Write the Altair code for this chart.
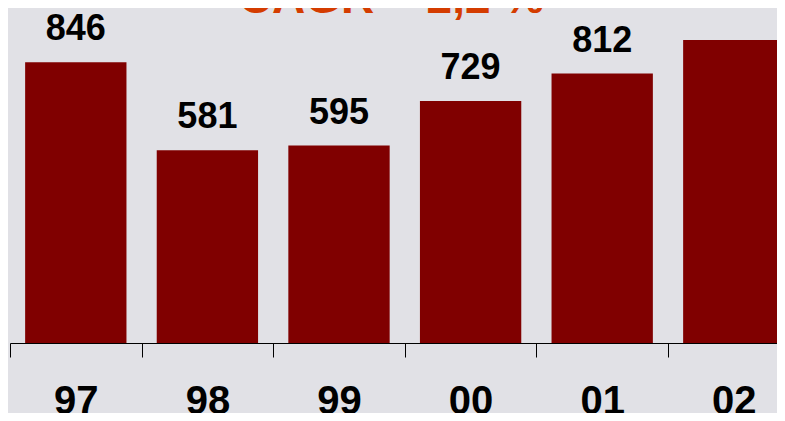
import altair as alt
import pandas as pd

years = ["97", "98", "99", "00", "01", "02"]
values = [846, 581, 595, 729, 812, 948]
labels = ["846", "581", "595", "729", "812", "948"]
title_text = "CAGR = 2,2 %"

df = pd.DataFrame({"year": years, "value": values, "label": labels})

x = alt.X("year:N", sort=years, title=None,
          scale=alt.Scale(paddingInner=0, paddingOuter=0, range=[0, 789.6]),
          axis=alt.Axis(labelAngle=0, labelFont="Liberation Sans", labelFontSize=40,
                        labelFontWeight="bold", labelColor="black", labelPadding=24,
                        labelBaseline="top",
                        tickSize=14, tickColor="black", tickWidth=1, tickBand="extent",
                        domainColor="black", domainWidth=1.2))
y = alt.Y("value:Q", scale=alt.Scale(domain=[0, 913], nice=False, zero=True),
          axis=None)

bars = alt.Chart(df).mark_bar(color="#800000", width=alt.RelativeBandSize(0.77),
                              clip=True).encode(x=x, y=y)

text = alt.Chart(df).mark_text(font="Liberation Sans", fontSize=36, fontWeight="bold",
                               color="black", baseline="alphabetic", dy=-22).encode(
    x=alt.X("year:N", sort=years), y=alt.Y("value:Q"), text="label:N")

title = alt.Chart(pd.DataFrame({"t": [title_text]})).mark_text(
    font="Liberation Sans", fontSize=46, fontWeight="bold", color="#D43C00",
    baseline="alphabetic", align="center").encode(
    x=alt.value(381.5), y=alt.value(-27), text="t:N")

chart = (bars + text + title).properties(
    width=767, height=303,
    autosize=alt.AutoSizeParams(type="none"),
    padding={"left": 2, "top": 32, "right": 0, "bottom": 70},
    background="#e1e1e6",
).configure_view(stroke=None)

chart.save("out.html", embed_options={"renderer": "svg", "actions": False})
